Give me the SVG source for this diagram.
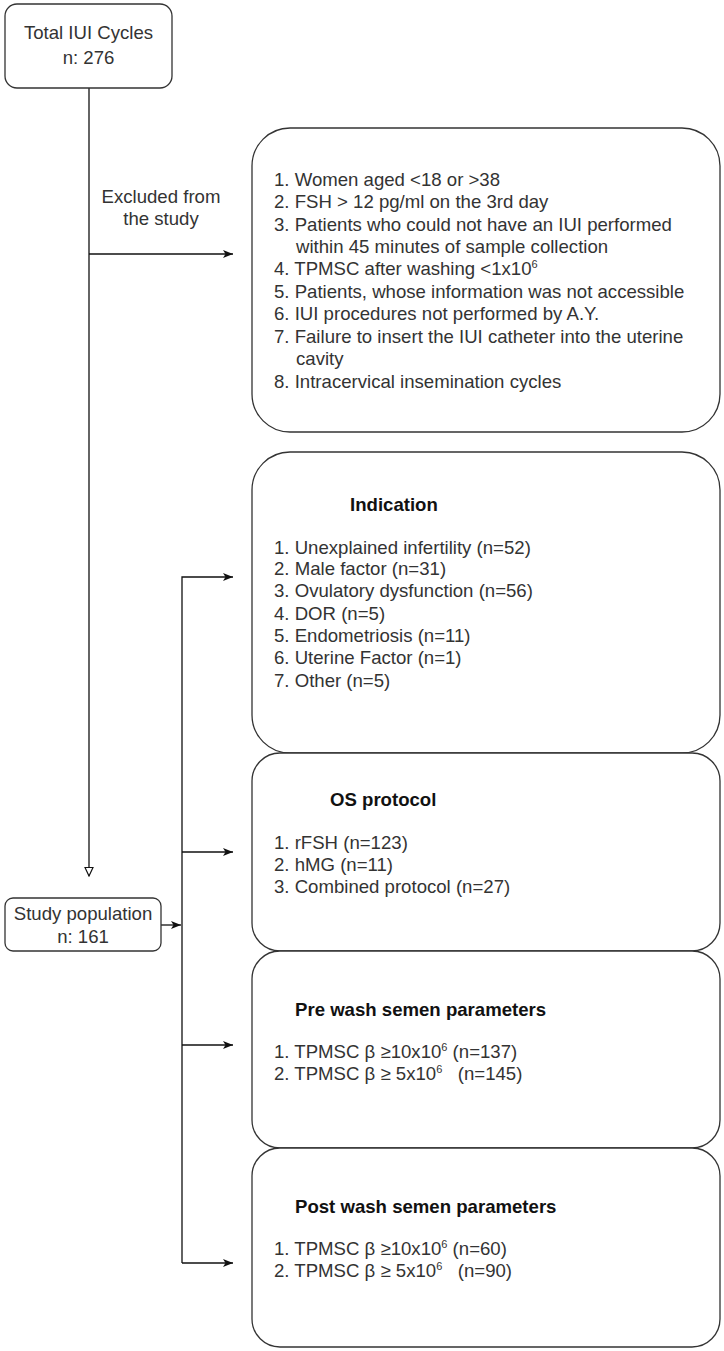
<svg xmlns="http://www.w3.org/2000/svg" width="724" height="1351" viewBox="0 0 724 1351">
<defs>
<style>
.box{fill:#fff;stroke:#333;stroke-width:1.3}
.ln{fill:none;stroke:#111;stroke-width:1.3}
.t{font-family:"Liberation Sans",Arial,sans-serif;font-size:18.6px;fill:#333}
.c{text-anchor:middle}
.b{font-family:"Liberation Sans",Arial,sans-serif;font-size:18.6px;font-weight:bold;fill:#111}
.sup{font-size:11px}
</style>
<marker id="arr" viewBox="0 0 10 8" refX="10" refY="4" markerWidth="10" markerHeight="8" markerUnits="userSpaceOnUse" orient="auto">
<path d="M0,0 L10,4 L0,8 L2.5,4 z" fill="#111"/>
</marker>
<marker id="tri" viewBox="0 0 10 10" refX="9.5" refY="5" markerWidth="10" markerHeight="10" markerUnits="userSpaceOnUse" orient="auto">
<path d="M1,1 L9.5,5 L1,9 z" fill="#fff" stroke="#111" stroke-width="1.2"/>
</marker>
</defs>
<rect width="724" height="1351" fill="#fff"/>

<g id="connectors">
<path class="ln" d="M89,88 V876" marker-end="url(#tri)"/>
<path class="ln" d="M89,254 H233" marker-end="url(#arr)"/>
<path class="ln" d="M161,925 H181" marker-end="url(#arr)"/>
<path class="ln" d="M182,1263 V577 H233" marker-end="url(#arr)"/>
<path class="ln" d="M182,852 H233" marker-end="url(#arr)"/>
<path class="ln" d="M182,1045 H233" marker-end="url(#arr)"/>
<path class="ln" d="M182,1263 H233" marker-end="url(#arr)"/>
<text class="t c" x="161" y="203">Excluded from</text>
<text class="t c" x="161" y="225">the study</text>
</g>

<g id="total">
<rect class="box" x="5" y="4" width="167" height="84" rx="12"/>
<text class="t c" x="88.5" y="39">Total IUI Cycles</text>
<text class="t c" x="88.5" y="64">n: 276</text>
</g>

<g id="study">
<rect class="box" x="5" y="898" width="156" height="53" rx="8"/>
<text class="t c" x="83" y="920">Study population</text>
<text class="t c" x="83" y="943">n: 161</text>
</g>

<g id="exclusion">
<rect class="box" x="252" y="128" width="468" height="304" rx="38"/>
<text class="t" x="274" y="186">1. Women aged &lt;18 or &gt;38</text>
<text class="t" x="274" y="208">2. FSH &gt; 12 pg/ml on the 3rd day</text>
<text class="t" x="274" y="231">3. Patients who could not have an IUI performed</text>
<text class="t" x="296" y="253">within 45 minutes of sample collection</text>
<text class="t" x="274" y="275">4. TPMSC after washing &lt;1x10<tspan class="sup" dy="-7">6</tspan></text>
<text class="t" x="274" y="298">5. Patients, whose information was not accessible</text>
<text class="t" x="274" y="320">6. IUI procedures not performed by A.Y.</text>
<text class="t" x="274" y="343">7. Failure to insert the IUI catheter into the uterine</text>
<text class="t" x="296" y="365">cavity</text>
<text class="t" x="274" y="388">8. Intracervical insemination cycles</text>
</g>

<g id="indication">
<rect class="box" x="252" y="452" width="468" height="301" rx="38"/>
<text class="b" x="350" y="511">Indication</text>
<text class="t" x="274" y="554">1. Unexplained infertility (n=52)</text>
<text class="t" x="274" y="575">2. Male factor (n=31)</text>
<text class="t" x="274" y="597">3. Ovulatory dysfunction (n=56)</text>
<text class="t" x="274" y="620">4. DOR (n=5)</text>
<text class="t" x="274" y="642">5. Endometriosis (n=11)</text>
<text class="t" x="274" y="664">6. Uterine Factor (n=1)</text>
<text class="t" x="274" y="687">7. Other (n=5)</text>
</g>

<g id="os">
<rect class="box" x="252" y="753" width="468" height="198" rx="28"/>
<text class="b" x="330" y="806">OS protocol</text>
<text class="t" x="274" y="849">1. rFSH (n=123)</text>
<text class="t" x="274" y="871">2. hMG (n=11)</text>
<text class="t" x="274" y="893">3. Combined protocol (n=27)</text>
</g>

<g id="prewash">
<rect class="box" x="252" y="951" width="468" height="197" rx="28"/>
<text class="b" x="295" y="1016">Pre wash semen parameters</text>
<text class="t" x="274" y="1058" xml:space="preserve">1. TPMSC β ≥10x10<tspan class="sup" dy="-7">6</tspan><tspan dy="7"> (n=137)</tspan></text>
<text class="t" x="274" y="1080" xml:space="preserve">2. TPMSC β ≥ 5x10<tspan class="sup" dy="-7">6</tspan><tspan dy="7">   (n=145)</tspan></text>
</g>

<g id="postwash">
<rect class="box" x="252" y="1148" width="468" height="199" rx="28"/>
<text class="b" x="295" y="1213">Post wash semen parameters</text>
<text class="t" x="274" y="1255" xml:space="preserve">1. TPMSC β ≥10x10<tspan class="sup" dy="-7">6</tspan><tspan dy="7"> (n=60)</tspan></text>
<text class="t" x="274" y="1277" xml:space="preserve">2. TPMSC β ≥ 5x10<tspan class="sup" dy="-7">6</tspan><tspan dy="7">   (n=90)</tspan></text>
</g>
</svg>
